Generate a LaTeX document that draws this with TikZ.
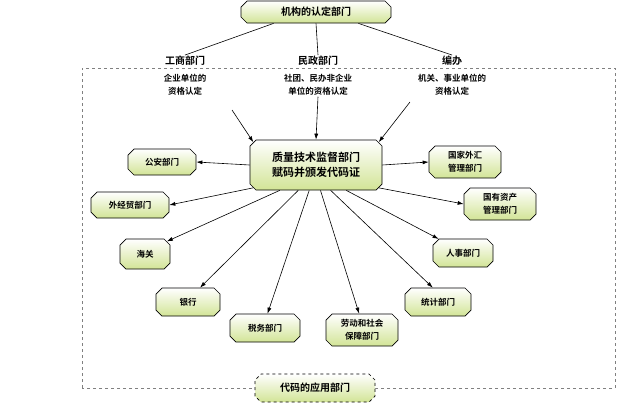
\documentclass[tikz,border=0pt]{standalone}
\usepackage{fontspec}
\setmainfont{Noto Sans CJK SC}[BoldFont={* Bold}]
\usetikzlibrary{shapes.misc,arrows.meta}
\begin{document}
\begin{tikzpicture}[x=1pt,y=-1pt,font=\fontsize{8.5}{13}\selectfont\bfseries,
 box/.style={chamfered rectangle,chamfered rectangle xsep=3pt,chamfered rectangle ysep=3pt,draw=black,line width=0.7pt,top color=white,bottom color={rgb,255:red,210;green,228;blue,150},align=center,inner sep=1pt},
 lab/.style={align=center,inner sep=1pt},
 arr/.style={-{Latex[length=6pt,width=4pt]},line width=0.6pt},
 ln/.style={line width=0.6pt}]
\useasboundingbox (0,0) rectangle (640,408);
\draw[dashed,gray,line width=0.5pt] (82,388) -- (82,68) -- (615,68) -- (615,388) -- (82,388);
\node[box,minimum width=150,minimum height=22,font=\fontsize{10}{12}\selectfont\bfseries] (top) at (316,12) {机构的认定部门};
\node[lab,font=\fontsize{10}{12}\selectfont\bfseries] (gs) at (185,61) {工商部门};
\node[lab] (gss) at (185,85) {企业单位的\\资格认定};
\node[lab,font=\fontsize{10}{12}\selectfont\bfseries] (mz) at (318,61) {民政部门};
\node[lab] (mzs) at (318,85) {社团、民办非企业\\单位的资格认定};
\node[lab,font=\fontsize{10}{12}\selectfont\bfseries] (bb) at (452,61) {编办};
\node[lab] (bbs) at (452,85) {机关、事业单位的\\资格认定};
\draw[ln] (top.195) -- (gs.north);
\draw[ln] (top.south) -- (mz.north);
\draw[ln] (top.-15) -- (bb.north);
\node[box,minimum width=132,minimum height=50,font=\fontsize{11}{15}\selectfont\bfseries] (c) at (316,165) {质量技术监督部门\\赋码并颁发代码证};
\draw[arr] (232,110) -- (c.160);
\draw[arr] (mzs.south) -- (c.north);
\draw[arr] (410,102) -- (c.20);
\node[box,minimum width=68,minimum height=26] (ga) at (162,162) {公安部门};
\node[box,minimum width=78,minimum height=26] (wj) at (130,205) {外经贸部门};
\node[box,minimum width=50,minimum height=30] (hg) at (145,254) {海关};
\node[box,minimum width=64,minimum height=28] (yh) at (188,302) {银行};
\node[box,minimum width=70,minimum height=28] (sw) at (265,328) {税务部门};
\node[box,minimum width=72,minimum height=32] (ld) at (362,330) {劳动和社会\\保障部门};
\node[box,minimum width=66,minimum height=28] (tj) at (438,302) {统计部门};
\node[box,minimum width=60,minimum height=28] (rs) at (463,253) {人事部门};
\node[box,minimum width=72,minimum height=32] (gy) at (500,204) {国有资产\\管理部门};
\node[box,minimum width=72,minimum height=32] (wh) at (465,162) {国家外汇\\管理部门};
\draw[arr] (c.west) -- (ga.east);
\draw[arr] (c.200) -- (wj.east);
\draw[arr] (c.215) -- (hg.30);
\draw[arr] (c.235) -- (yh.50);
\draw[arr] (c.255) -- (sw.80);
\draw[arr] (c.280) -- (ld.100);
\draw[arr] (c.300) -- (tj.110);
\draw[arr] (c.320) -- (rs.150);
\draw[arr] (c.340) -- (gy.west);
\draw[arr] (c.east) -- (wh.west);
\node[box,dashed,fill=white,minimum width=120,minimum height=28,font=\fontsize{10}{12}\selectfont\bfseries] (bt) at (315,388) {代码的应用部门};
\end{tikzpicture}
\end{document}
